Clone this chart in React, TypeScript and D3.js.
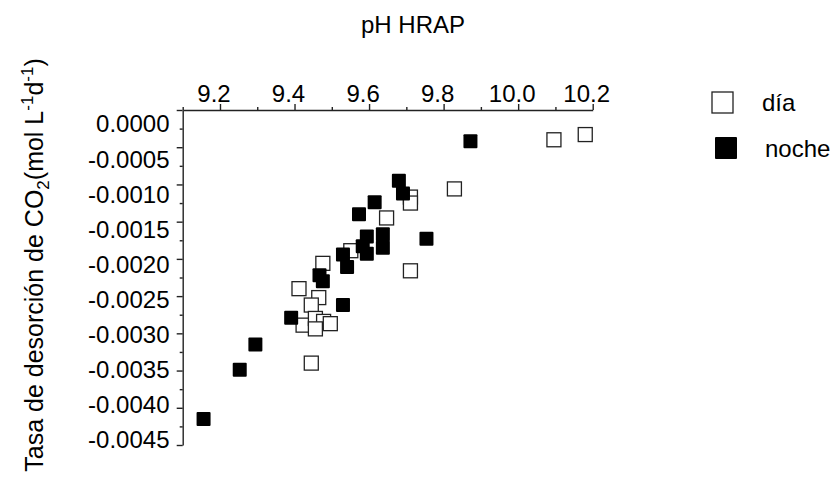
import React, { useEffect, useRef } from "react";
import * as d3 from "d3";

const phDia = [10.18, 10.096, 9.829, 9.711, 9.711, 9.647, 9.711, 9.476, 9.412, 9.465, 9.445, 9.423, 9.456, 9.478, 9.496, 9.456, 9.445, 9.551];
const tasaDia = [-0.00033, -0.0004, -0.00106, -0.00117, -0.00125, -0.00145, -0.00216, -0.00206, -0.0024, -0.00252, -0.00262, -0.00289, -0.0028, -0.00284, -0.00287, -0.00294, -0.0034, -0.00189];

const phNoche = [9.872, 9.68, 9.691, 9.615, 9.573, 9.754, 9.637, 9.637, 9.594, 9.594, 9.583, 9.53, 9.541, 9.467, 9.476, 9.53, 9.391, 9.295, 9.253, 9.156];
const tasaNoche = [-0.00042, -0.00095, -0.00112, -0.00124, -0.0014, -0.00173, -0.00167, -0.00185, -0.0017, -0.00193, -0.00183, -0.00194, -0.00211, -0.00222, -0.0023, -0.00262, -0.00279, -0.00315, -0.00349, -0.00415];

const xTicks = [9.2, 9.4, 9.6, 9.8, 10.0, 10.2];
const xMinorTicks = [9.1, 9.3, 9.5, 9.7, 9.9, 10.1];
const yTicks = [0, -0.0005, -0.001, -0.0015, -0.002, -0.0025, -0.003, -0.0035, -0.004, -0.0045];
const yMinorTicks = [-0.00025, -0.00075, -0.00125, -0.00175, -0.00225, -0.00275, -0.00325, -0.00375, -0.00425];

const seriesNames = ["día", "noche"];
const FONT = "Liberation Sans, Arial, Helvetica, sans-serif";

export default function App() {
  const ref = useRef<SVGSVGElement | null>(null);

  useEffect(() => {
    const svg = d3.select(ref.current);
    svg.selectAll("*").remove();

    const x = d3.scaleLinear().domain([9.1, 10.2]).range([182.7, 592.7]);
    const y = d3.scaleLinear().domain([0, -0.0045]).range([110, 445]);
    const yLab = d3.scaleLinear().domain([0, -0.0045]).range([124, 440]);

    const axisColor = "#222";

    // X axis (top)
    const gx = svg.append("g").attr("transform", `translate(0,${y(0)})`);
    gx.call(d3.axisTop(x).tickValues(xTicks).tickSize(6).tickSizeOuter(0).tickFormat(() => ""));
    const gxm = svg.append("g").attr("transform", `translate(0,${y(0)})`);
    gxm.call(d3.axisTop(x).tickValues(xMinorTicks).tickSize(3).tickSizeOuter(0).tickFormat(() => ""));
    gxm.select(".domain").remove();

    // Y axis (left)
    const gy = svg.append("g").attr("transform", `translate(${x(9.1)},0)`);
    gy.call(d3.axisLeft(y).tickValues(yTicks).tickSize(6).tickSizeOuter(0).tickFormat(() => ""));
    const gym = svg.append("g").attr("transform", `translate(${x(9.1)},0)`);
    gym.call(d3.axisLeft(y).tickValues(yMinorTicks).tickSize(3).tickSizeOuter(0).tickFormat(() => ""));
    gym.select(".domain").remove();

    svg.selectAll(".domain, .tick line").attr("stroke", axisColor).attr("stroke-width", 1.4);

    // tick labels
    const fx = d3.format(".1f");
    svg.append("g")
      .selectAll("text")
      .data(xTicks)
      .join("text")
      .attr("x", (d) => x(d) - 6)
      .attr("y", y(0) - 8)
      .attr("text-anchor", "middle")
      .attr("font-family", FONT)
      .attr("font-size", 24)
      .attr("fill", "#000")
      .text((d) => fx(d));

    const fy = d3.format(".4f");
    svg.append("g")
      .selectAll("text")
      .data(yTicks)
      .join("text")
      .attr("x", 169.5)
      .attr("y", (d) => yLab(d))
      .attr("dy", "0.35em")
      .attr("text-anchor", "end")
      .attr("font-family", FONT)
      .attr("font-size", 24)
      .attr("fill", "#000")
      .text((d) => fy(d).replace("\u2212", "-"));

    // titles
    svg.append("text")
      .attr("x", 413)
      .attr("y", 33)
      .attr("text-anchor", "middle")
      .attr("font-family", FONT)
      .attr("font-size", 24)
      .text("pH HRAP");

    const yt = svg.append("text")
      .attr("transform", "translate(43,265) rotate(-90)")
      .attr("text-anchor", "middle")
      .attr("font-family", FONT)
      .attr("font-size", 25);
    yt.append("tspan").text("Tasa de desorción de CO");
    yt.append("tspan").attr("font-size", 17).attr("dy", 6).text("2");
    yt.append("tspan").attr("dy", -6).text("(mol L");
    yt.append("tspan").attr("font-size", 17).attr("dy", -10).text("-1");
    yt.append("tspan").attr("dy", 10).text("d");
    yt.append("tspan").attr("font-size", 17).attr("dy", -10).text("-1");
    yt.append("tspan").attr("dy", 10).text(")");

    // data
    const s = 14;
    const dia = phDia.map((p, i) => [p, tasaDia[i]]);
    const noche = phNoche.map((p, i) => [p, tasaNoche[i]]);

    svg.append("g")
      .selectAll("rect")
      .data(dia)
      .join("rect")
      .attr("x", (d) => x(d[0]) - s / 2)
      .attr("y", (d) => y(d[1]) - s / 2)
      .attr("width", s)
      .attr("height", s)
      .attr("fill", "#fff")
      .attr("stroke", "#222")
      .attr("stroke-width", 1.3);

    svg.append("g")
      .selectAll("rect")
      .data(noche)
      .join("rect")
      .attr("x", (d) => x(d[0]) - s / 2)
      .attr("y", (d) => y(d[1]) - s / 2)
      .attr("width", s)
      .attr("height", s)
      .attr("rx", 1)
      .attr("fill", "#000");

    // legend
    const lg = svg.append("g");
    lg.append("rect")
      .attr("x", 712).attr("y", 92).attr("width", 21).attr("height", 21)
      .attr("fill", "#fff").attr("stroke", "#222").attr("stroke-width", 1.3);
    lg.append("text")
      .attr("x", 762).attr("y", 110.5)
      .attr("font-family", FONT).attr("font-size", 24)
      .text(seriesNames[0]);
    lg.append("rect")
      .attr("x", 715).attr("y", 137).attr("width", 22).attr("height", 22)
      .attr("rx", 1).attr("fill", "#000");
    lg.append("text")
      .attr("x", 765).attr("y", 156.5)
      .attr("font-family", FONT).attr("font-size", 24)
      .text(seriesNames[1]);
  }, []);

  return (
    <svg
      ref={ref}
      width={840}
      height={492}
      style={{ position: "absolute", left: 0, top: 0, display: "block", background: "#fff" }}
    />
  );
}
